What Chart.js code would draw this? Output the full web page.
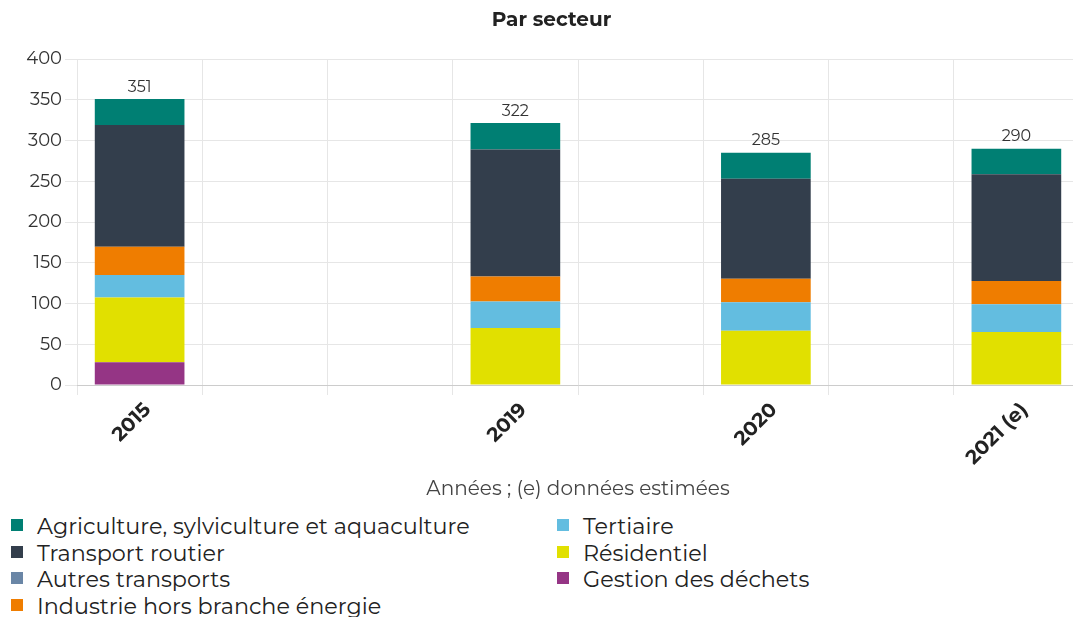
<!DOCTYPE html>
<html>
<head>
<meta charset="utf-8">
<script src="https://cdn.jsdelivr.net/npm/chart.js@4"></script>
<style>
  html, body { margin: 0; padding: 0; background: #fff; overflow: hidden; }
  #wrap { position: absolute; left: 0; top: 0; width: 1085px; height: 505px; }
  #legend { position: absolute; left: 0; top: 513px; width: 1073px; font-family: Montserrat, "Open Sans", sans-serif; font-size: 22.3px; color: #222; }
  .item { position: absolute; height: 26px; line-height: 26px; white-space: nowrap; }
  .box { position: absolute; left: 0; top: 6px; width: 12px; height: 12px; }
  .lbl { position: absolute; left: 26px; top: 0; }
</style>
</head>
<body>
<div id="wrap"><canvas id="chart" width="1085" height="505"></canvas></div>
<div id="legend"></div>
<script>
// categories (blank slots are kept empty, as in the original axis)
const years = ['2015', '', '', '2019', '', '2020', '', '2021 (e)'];

// values by sector (Mt CO2e), stacked bottom to top
const gestionDechets = [28, null, null, null, null, null, null, null];
const residentiel = [79.5, null, null, 70, null, 66.5, null, 65];
const tertiaire = [27.5, null, null, 32.5, null, 35, null, 34];
const industrie = [34.5, null, null, 30.5, null, 29, null, 28.5];
const autresTransports = [0, null, null, 0, null, 0, null, 0];
const transportRoutier = [149.5, null, null, 156, null, 122.5, null, 131];
const agriculture = [32, null, null, 32.5, null, 32, null, 31.5];

const yTicks = [0, 50, 100, 150, 200, 250, 300, 350, 400];

const FONT = 'Montserrat, "Open Sans", sans-serif';

const datasets = [
    { label: 'Gestion des déchets', data: gestionDechets, backgroundColor: '#953585' },
    { label: 'Résidentiel', data: residentiel, backgroundColor: '#e1e000' },
    { label: 'Tertiaire', data: tertiaire, backgroundColor: '#63bde0' },
    { label: 'Industrie hors branche énergie', data: industrie, backgroundColor: '#ef7d00' },
    { label: 'Autres transports', data: autresTransports, backgroundColor: '#6a86a6' },
    { label: 'Transport routier', data: transportRoutier, backgroundColor: '#333e4c' },
    { label: 'Agriculture, sylviculture et aquaculture', data: agriculture, backgroundColor: '#007f73' }
];

// totals drawn above each stack, plus the chart title
const totalsPlugin = {
    id: 'totals',
    afterDatasetsDraw(chart) {
        const ctx = chart.ctx;
        const xs = chart.scales.x, ys = chart.scales.y;
        ctx.save();
        ctx.font = '16px ' + FONT;
        ctx.fillStyle = '#333';
        ctx.textAlign = 'center';
        ctx.textBaseline = 'bottom';
        years.forEach(function(y, i) {
            let sum = 0, has = false;
            chart.data.datasets.forEach(function(ds) {
                if (ds.data[i] != null) { sum += ds.data[i]; has = true; }
            });
            if (!has) return;
            ctx.fillText(String(Math.round(sum)), xs.getPixelForValue(i), ys.getPixelForValue(sum) - 4);
        });
        // title
        ctx.font = 'bold 20px ' + FONT;
        ctx.fillStyle = '#222';
        ctx.textBaseline = 'middle';
        ctx.fillText('Par secteur', 551.5, 20);
        ctx.restore();
    }
};

const chart = new Chart(document.getElementById('chart').getContext('2d'), {
    type: 'bar',
    data: { labels: years, datasets: datasets },
    plugins: [totalsPlugin],
    options: {
        responsive: false,
        animation: false,
        layout: { padding: { left: 0, right: 6, top: 59, bottom: 0 } },
        plugins: {
            legend: { display: false },
            tooltip: { enabled: false },
            title: { display: false }
        },
        scales: {
            x: {
                stacked: true,
                grid: { color: '#e6e6e6', tickLength: 10, offset: true },
                border: { color: '#cccccc' },
                ticks: {
                    autoSkip: false,
                    maxRotation: 45,
                    minRotation: 45,
                    labelOffset: 8,
                    color: '#222',
                    font: { family: FONT, size: 20, weight: 'bold' }
                },
                title: {
                    display: true,
                    text: 'Années ; (e) données estimées',
                    color: '#444',
                    font: { family: FONT, size: 20 },
                    padding: { top: 4, bottom: 4 }
                },
                afterFit(scale) { scale.height = 120; }
            },
            y: {
                stacked: true,
                min: 0,
                max: 400,
                afterBuildTicks(scale) { scale.ticks = yTicks.map(v => ({ value: v })); },
                grid: { color: '#e6e6e6', tickLength: 12 },
                border: { display: false },
                ticks: {
                    color: '#333',
                    padding: 3,
                    font: { family: FONT, size: 18 }
                },
                afterFit(scale) { scale.width = 77; }
            }
        },
        datasets: {
            bar: { categoryPercentage: 1, barPercentage: 0.716 }
        }
    }
});

// two-column legend, same order as the original
const legendOrder = [
    'Agriculture, sylviculture et aquaculture', 'Transport routier', 'Autres transports',
    'Industrie hors branche énergie', 'Tertiaire', 'Résidentiel', 'Gestion des déchets'
];
const legend = document.getElementById('legend');
legendOrder.forEach(function(name, k) {
    const ds = datasets.find(d => d.label === name);
    const col = k < 4 ? 0 : 1;
    const row = col === 0 ? k : k - 4;
    const el = document.createElement('div');
    el.className = 'item';
    el.style.left = (col === 0 ? 11 : 557) + 'px';
    el.style.top = (row * 26.5) + 'px';
    el.innerHTML = '<span class="box" style="background:' + ds.backgroundColor + '"></span><span class="lbl">' + name + '</span>';
    legend.appendChild(el);
});
</script>
</body>
</html>
